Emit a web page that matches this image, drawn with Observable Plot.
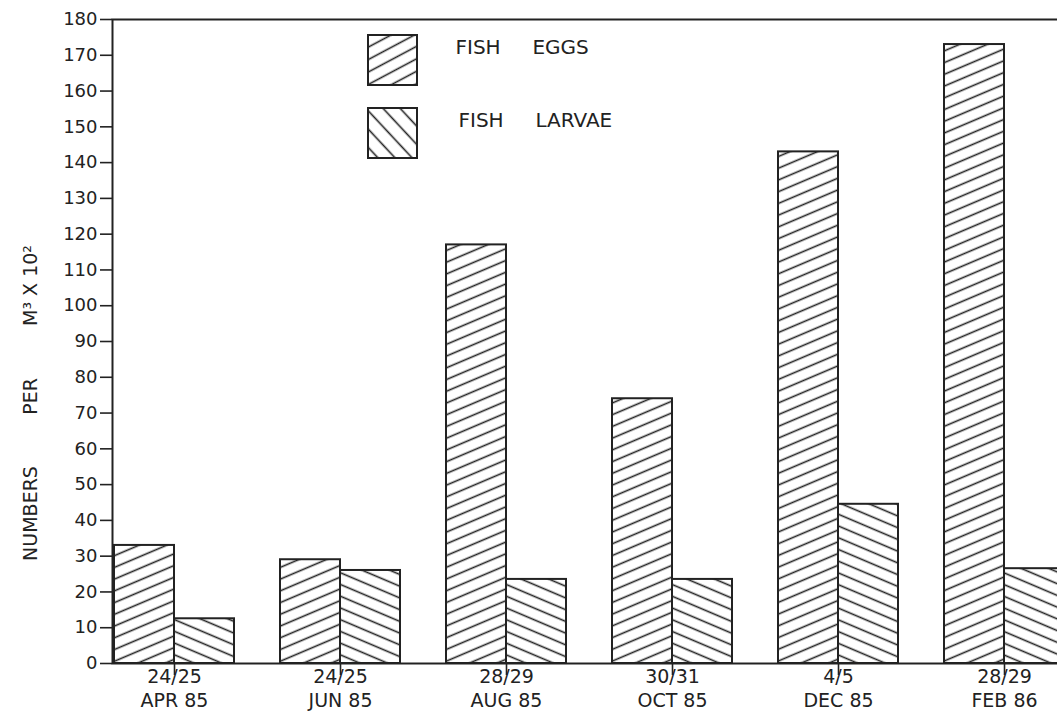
<!DOCTYPE html>
<html>
<head>
<meta charset="utf-8">
<script src="https://cdn.jsdelivr.net/npm/d3@7"></script>
<script src="https://cdn.jsdelivr.net/npm/@observablehq/plot@0.6"></script>
<style>
  html, body { margin: 0; padding: 0; background: #fff; overflow: hidden; width: 1057px; height: 712px; }
  #chart svg { max-width: none !important; display: block; }
  svg text { white-space: pre; }
</style>
</head>
<body>
<div id="chart"></div>
<script>
// ---- data ----
const months = ["APR 85", "JUN 85", "AUG 85", "OCT 85", "DEC 85", "FEB 86"];
const dates  = ["24/25", "24/25", "28/29", "30/31", "4/5", "28/29"];
const fishEggs   = [33, 29, 117, 74, 143, 173];
const fishLarvae = [12.5, 26, 23.5, 23.5, 44.5, 26.5];
const yTicks = [0, 10, 20, 30, 40, 50, 60, 70, 80, 90, 100, 110, 120, 130, 140, 150, 160, 170, 180];
const seriesNames = ["FISH     EGGS", "FISH     LARVAE"];
const yTitleWords = ["NUMBERS", "PER", "M³ X 10²"];

const rows = months.map((m, i) => ({month: m, date: dates[i], eggs: fishEggs[i], larvae: fishLarvae[i]}));
const ink = "#222";

const svg = Plot.plot({
  width: 1065,
  height: 712,
  marginLeft: 112,
  marginRight: 0,
  marginTop: 19,
  marginBottom: 49,
  style: {fontFamily: "'DejaVu Sans', sans-serif", fontSize: "18px", color: ink, background: "#fff", maxWidth: "none", overflow: "visible"},
  x: {domain: months, paddingInner: 0.28, paddingOuter: 0},
  y: {domain: [0, 180]},
  marks: [
    Plot.barY(rows, {x: "month", y: "eggs", fill: "url(#hatchEggs)", stroke: ink, strokeWidth: 2, insetRight: 60}),
    Plot.barY(rows, {x: "month", y: "larvae", fill: "url(#hatchLarvae)", stroke: ink, strokeWidth: 2, insetLeft: 60}),
    Plot.frame({stroke: ink, strokeWidth: 2}),
    Plot.axisY({ticks: yTicks, tickSize: 12, tickPadding: 3, fontSize: 18, strokeWidth: 1.6, label: null}),
    Plot.axisX({
      tickSize: 12, tickPadding: -9, fontSize: 19, lineHeight: 1.25, strokeWidth: 1.6, label: null,
      tickFormat: (m) => dates[months.indexOf(m)] + "\n" + m
    }),
    // y-axis title words
    Plot.text([yTitleWords[0]], {text: d => d, frameAnchor: "left", textAnchor: "middle", dx: -82, dy: 172, rotate: -90, fontSize: 19}),
    Plot.text([yTitleWords[1]], {text: d => d, frameAnchor: "left", textAnchor: "middle", dx: -82, dy: 55, rotate: -90, fontSize: 19}),
    Plot.text([yTitleWords[2]], {text: d => d, frameAnchor: "left", textAnchor: "middle", dx: -82, dy: -56, rotate: -90, fontSize: 19}),
    // legend swatches (frame-relative)
    Plot.rect([seriesNames[0]], {fill: "url(#hatchEggsKey)", stroke: ink, strokeWidth: 2,
      insetLeft: 256, insetRight: 648, insetTop: 16, insetBottom: 578}),
    Plot.rect([seriesNames[1]], {fill: "url(#hatchLarvaeKey)", stroke: ink, strokeWidth: 2,
      insetLeft: 256, insetRight: 648, insetTop: 89, insetBottom: 505}),
    Plot.text([seriesNames[0]], {text: d => d, frameAnchor: "top-left", dx: 343, dy: 28, textAnchor: "start", lineAnchor: "middle", fontSize: 20}),
    Plot.text([seriesNames[1]], {text: d => d, frameAnchor: "top-left", dx: 346, dy: 101, textAnchor: "start", lineAnchor: "middle", fontSize: 20})
  ]
});

// hatch patterns
const defs = d3.select(svg).insert("defs", ":first-child");
function hatch(id, angle, spacing, width) {
  const p = defs.append("pattern")
    .attr("id", id)
    .attr("patternUnits", "userSpaceOnUse")
    .attr("width", 20)
    .attr("height", spacing)
    .attr("patternTransform", `rotate(${angle})`);
  p.append("rect").attr("width", 20).attr("height", spacing).attr("fill", "#fff");
  p.append("line").attr("x1", -1).attr("x2", 21).attr("y1", spacing / 2).attr("y2", spacing / 2)
    .attr("stroke", ink).attr("stroke-width", width);
}
hatch("hatchEggs", -23, 10.8, 1.6);
hatch("hatchLarvae", 23, 10.8, 1.6);
hatch("hatchEggsKey", -28, 11, 1.6);
hatch("hatchLarvaeKey", 47, 12.5, 1.6);

document.getElementById("chart").appendChild(svg);
</script>
</body>
</html>
